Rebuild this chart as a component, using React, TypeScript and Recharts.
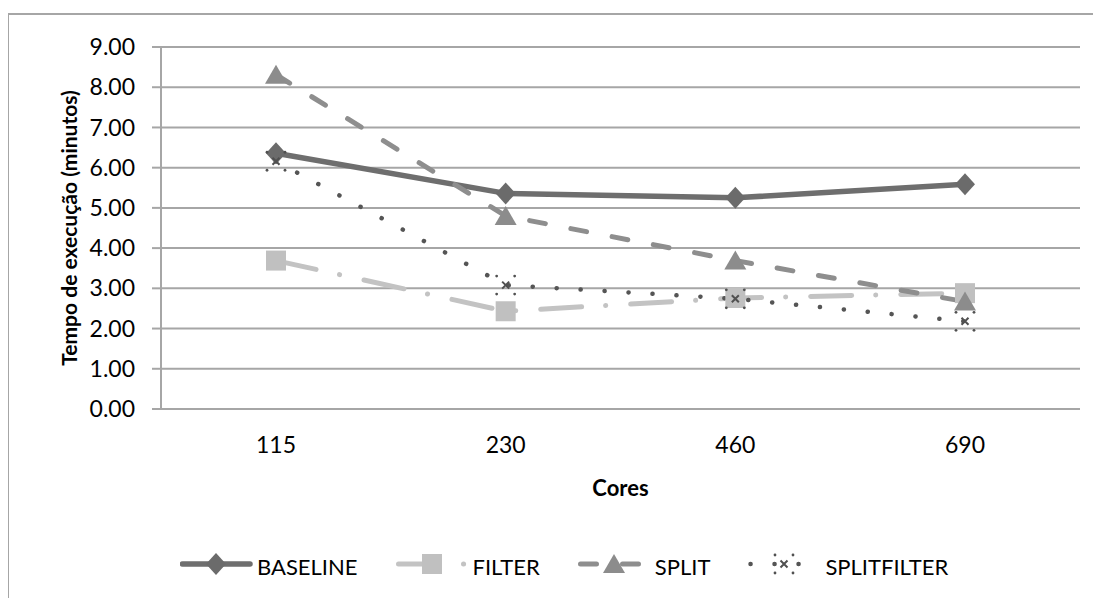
import { CartesianGrid, Legend, Line, LineChart, XAxis, YAxis } from 'recharts'

const cores = ['115', '230', '460', '690']
const baseline = [6.36, 5.36, 5.25, 5.59]
const filter = [3.69, 2.43, 2.76, 2.88]
const split = [8.31, 4.8, 3.69, 2.67]
const splitFilter = [6.16, 3.08, 2.74, 2.18]
const yTicks = [0, 1, 2, 3, 4, 5, 6, 7, 8, 9]

const FONT = 'Lato, "Open Sans", sans-serif'
const GRID = '#a6a6a6'

const data = cores.map((c, i) => ({
  cores: c,
  BASELINE: baseline[i],
  FILTER: filter[i],
  SPLIT: split[i],
  SPLITFILTER: splitFilter[i],
}))

type Mark = (p: { cx: number; cy: number; k?: string }) => JSX.Element

const diamond: Mark = ({ cx, cy, k }) => (
  <path key={k} d={`M${cx},${cy - 11}L${cx + 10},${cy}L${cx},${cy + 11}L${cx - 10},${cy}Z`} fill="#6b6b6b" />
)
const square: Mark = ({ cx, cy, k }) => (
  <rect key={k} x={cx - 10} y={cy - 10} width={20} height={20} fill="#c0c0c0" />
)
const triangle: Mark = ({ cx, cy, k }) => (
  <path key={k} d={`M${cx},${cy - 10}L${cx + 11},${cy + 9}L${cx - 11},${cy + 9}Z`} fill="#8c8c8c" />
)
const star: Mark = ({ cx, cy, k }) => (
  <g key={k} fill="#505050" stroke="#505050">
    <path d={`M${cx - 3.5},${cy - 3.5}L${cx + 3.5},${cy + 3.5}M${cx + 3.5},${cy - 3.5}L${cx - 3.5},${cy + 3.5}`} strokeWidth={2} />
    <circle cx={cx - 9} cy={cy - 9} r={1.4} stroke="none" />
    <circle cx={cx + 9} cy={cy - 9} r={1.4} stroke="none" />
    <circle cx={cx - 9} cy={cy + 9} r={1.4} stroke="none" />
    <circle cx={cx + 9} cy={cy + 9} r={1.4} stroke="none" />
  </g>
)

const series = [
  { key: 'BASELINE', color: '#6e6e6e', width: 5.5, dash: undefined, mark: diamond },
  { key: 'FILTER', color: '#c3c3c3', width: 5, dash: '41 24 0.1 25', mark: square },
  { key: 'SPLIT', color: '#8e8e8e', width: 5, dash: '16 26', mark: triangle },
  { key: 'SPLITFILTER', color: '#555555', width: 4.5, dash: '0.1 23.9', mark: star },
]

function renderLegend() {
  return (
    <div style={{ display: 'flex', height: 40, paddingLeft: 171, fontFamily: FONT, fontSize: 22, lineHeight: '40px' }}>
      {series.map((s) => (
        <div key={s.key} style={{ display: 'flex', marginRight: 38 }}>
          <svg width={75} height={40} style={{ display: 'block' }}>
            <line
              x1={2.5}
              y1={17}
              x2={70}
              y2={17}
              stroke={s.color}
              strokeWidth={s.width}
              strokeDasharray={s.dash}
              strokeLinecap="round"
            />
            {s.mark({ cx: 36, cy: 17 })}
          </svg>
          <span style={{ marginLeft: 2, color: '#000', whiteSpace: 'nowrap' }}>{s.key}</span>
        </div>
      ))}
    </div>
  )
}

export default function App() {
  return (
    <div style={{ paddingTop: 5, marginRight: -8, marginBottom: -8 }}>
      <div
        style={{
          marginLeft: -1,
          height: 591,
          borderTop: `2px solid ${GRID}`,
          borderLeft: `2px solid ${GRID}`,
        }}
      >
        <LineChart width={1080} height={580} data={data} margin={{ top: 32, right: 9, bottom: 8, left: 0 }}>
          <CartesianGrid vertical={false} stroke={GRID} strokeWidth={2} />
          <XAxis
            dataKey="cores"
            height={138}
            padding={{ left: 115, right: 115 }}
            tickSize={0}
            tickMargin={28}
            axisLine={{ stroke: GRID, strokeWidth: 2 }}
            tick={{ fill: '#000', fontSize: 23, fontFamily: FONT }}
            label={{
              content: ({ viewBox }: any) => (
                <text
                  x={viewBox.x + viewBox.width / 2}
                  y={viewBox.y + 78}
                  textAnchor="middle"
                  dominantBaseline="central"
                  fontFamily={FONT}
                  fontWeight="bold"
                  fontSize={22}
                >
                  Cores
                </text>
              ),
            }}
          />
          <YAxis
            width={152}
            domain={[0, 9]}
            ticks={yTicks}
            interval={0}
            tickFormatter={(v: number) => v.toFixed(2)}
            tickSize={9}
            tickMargin={17}
            axisLine={{ stroke: GRID, strokeWidth: 2 }}
            tickLine={{ stroke: GRID, strokeWidth: 2 }}
            tick={{ fill: '#000', fontSize: 23, fontFamily: FONT }}
            label={{
              content: ({ viewBox }: any) => {
                const x = viewBox.x + 59
                const y = viewBox.y + viewBox.height / 2
                return (
                  <text
                    x={x}
                    y={y}
                    transform={`rotate(-90 ${x} ${y})`}
                    textAnchor="middle"
                    dominantBaseline="central"
                    fontFamily={FONT}
                    fontWeight="bold"
                    fontSize={21}
                  >
                    Tempo de execução (minutos)
                  </text>
                )
              },
            }}
          />
          <Legend verticalAlign="bottom" align="left" content={renderLegend} wrapperStyle={{ height: 40 }} />
          {series.map((s) => (
            <Line
              key={s.key}
              dataKey={s.key}
              stroke={s.color}
              strokeWidth={s.width}
              strokeDasharray={s.dash}
              strokeLinecap="round"
              strokeLinejoin="round"
              dot={(p: any) => s.mark({ cx: p.cx, cy: p.cy, k: `${s.key}-${p.index}` })}
              activeDot={false}
              isAnimationActive={false}
            />
          ))}
        </LineChart>
      </div>
    </div>
  )
}
